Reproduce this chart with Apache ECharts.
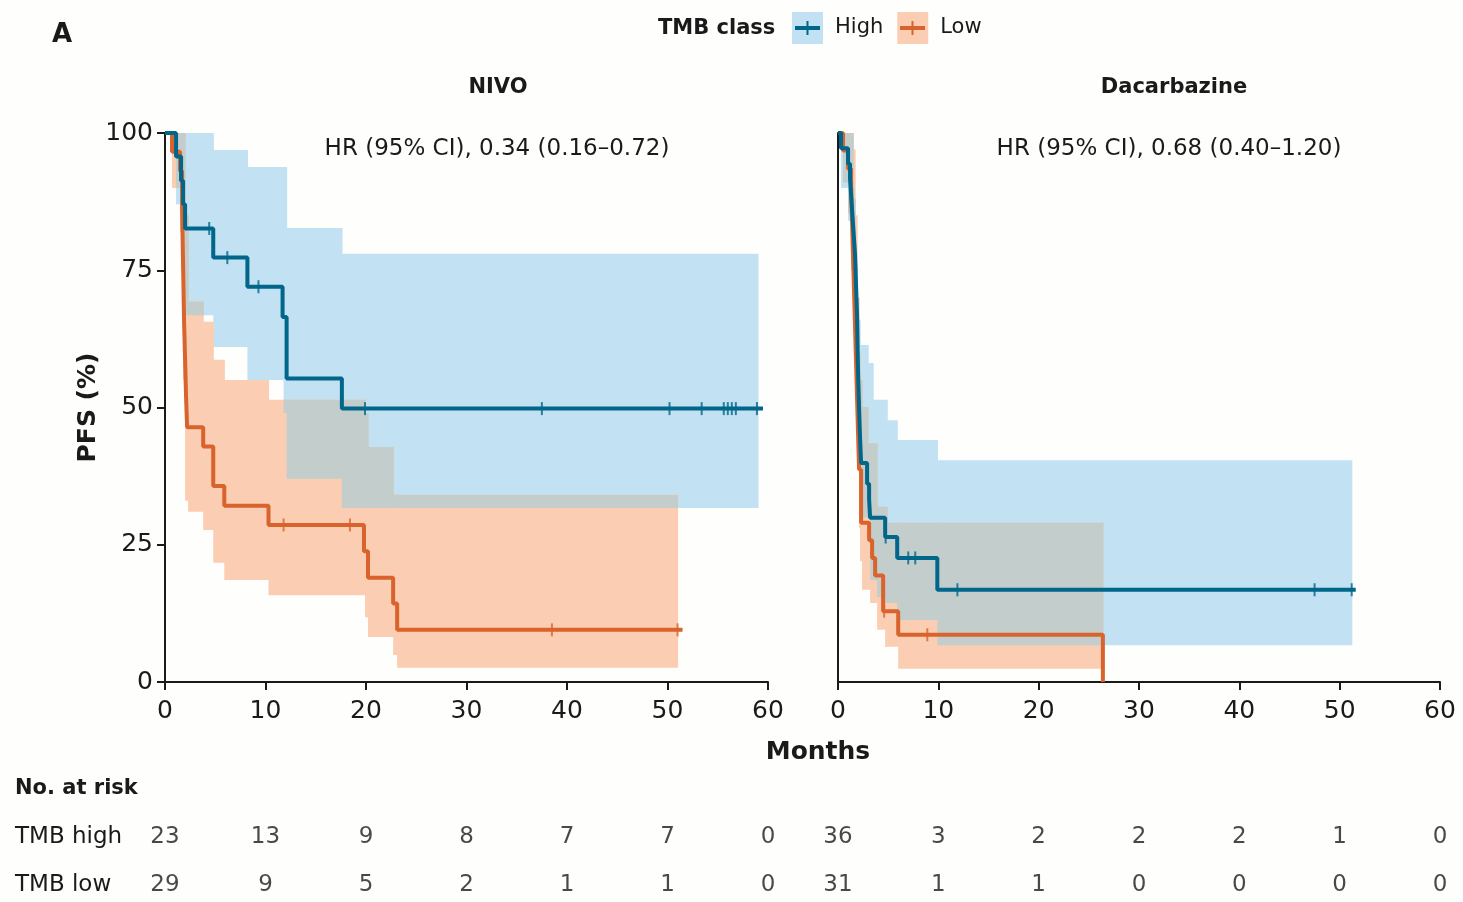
<!DOCTYPE html>
<html lang="en">
<head>
<meta charset="UTF-8">
<title>PFS by TMB class</title>
<script src="https://cdn.jsdelivr.net/npm/echarts@6.0.0/dist/echarts.min.js"></script>
<style>
  html, body { margin: 0; padding: 0; background: #ffffff; }
  #chart { width: 1463px; height: 902px; }
</style>
</head>
<body>
<div id="chart"></div>
<script>
// months shown on the x axes and in the risk table
const monthTicks = [0, 10, 20, 30, 40, 50, 60];

// Kaplan-Meier estimates, [month, PFS %]
const nivoHigh = [[0, 100], [1.1, 95.7], [1.6, 91.3], [1.8, 87.0], [2.0, 82.6], [4.8, 77.3], [8.2, 72.0],
  [11.7, 66.5], [12.1, 55.3], [17.6, 49.8]];
const nivoLow = [[0, 100], [0.7, 96.6], [1.5, 93.1], [1.7, 86.2], [1.8, 75.9], [1.9, 65.5], [2.0, 58.6],
  [2.1, 51.7], [2.2, 46.4], [3.8, 42.9], [4.8, 35.7], [5.9, 32.1], [10.3, 28.6], [19.8, 23.8],
  [20.2, 19.0], [22.7, 14.3], [23.1, 9.5]];
const dacHigh = [[0, 100], [0.3, 97.2], [1.0, 94.4], [1.2, 91.7], [1.3, 88.9], [1.4, 86.1], [1.5, 83.3],
  [1.6, 80.6], [1.7, 77.8], [1.8, 72.2], [1.9, 66.7], [1.95, 61.1], [2.0, 56.3], [2.1, 50.0],
  [2.2, 44.4], [2.3, 39.9], [2.9, 36.1], [3.1, 33.3], [3.2, 29.9], [4.7, 26.4], [5.9, 22.6], [9.9, 16.8]];
const dacLow = [[0, 100], [0.5, 96.8], [1.0, 93.5], [1.3, 90.3], [1.4, 83.9], [1.5, 77.4], [1.6, 71.0],
  [1.7, 64.5], [1.8, 58.1], [1.9, 51.6], [2.0, 45.2], [2.1, 38.7], [2.3, 29.0], [3.1, 25.8],
  [3.4, 22.6], [3.7, 19.4], [4.5, 12.9], [6.0, 8.6], [26.4, 0]];

// last follow-up month of each curve
const nivoHighEnd = 59.5;
const nivoLowEnd = 51.5;
const dacHighEnd = 51.6;
const dacLowEnd = 26.4;

// censoring times (months)
const nivoHighCensor = [4.4, 6.2, 9.3, 19.9, 37.5, 50.2, 53.4, 55.6, 56.0, 56.4, 56.8, 58.9];
const nivoLowCensor = [11.8, 18.4, 38.5, 51.0];
const dacHighCensor = [2.05, 4.75, 7.0, 7.7, 11.9, 47.5, 51.2];
const dacLowCensor = [4.6, 8.9];

// 95% CI bands, [start month, lower %, upper %]
const nivoHighCI = [[0, 100, 100], [1.1, 87, 100], [1.6, 75, 100], [2.0, 66.8, 100], [4.8, 61.0, 96.9],
  [8.2, 55.0, 93.8], [11.8, 49.0, 93.8], [12.1, 37.0, 82.7], [17.6, 31.7, 78.0]];
const nivoLowCI = [[0, 100, 100], [0.7, 90, 100], [1.5, 82, 100], [1.8, 55, 100], [2.0, 33, 85],
  [2.3, 31.0, 69.3], [3.8, 27.7, 65.6], [4.8, 21.7, 58.7], [5.9, 18.6, 55.0], [10.3, 15.8, 51.4],
  [19.9, 11.8, 49.0], [20.2, 8.2, 42.8], [22.7, 4.9, 34.1], [23.1, 2.6, 34.1]];
const dacHighCI = [[0, 100, 100], [0.3, 90, 100], [1.0, 84, 100], [1.3, 75, 100], [1.5, 70, 90],
  [1.6, 65, 88], [1.7, 58, 80], [1.8, 55, 76], [1.9, 48, 70], [2.0, 42, 66], [2.2, 30, 61.4],
  [3.0, 30, 58.1], [3.2, 18.6, 58.1], [3.5, 18.6, 51.4], [3.9, 15.5, 51.4], [4.7, 14.4, 51.4],
  [4.9, 14.4, 47.7], [5.9, 11.3, 44.1], [9.9, 6.7, 40.4]];
const dacLowCI = [[0, 100, 100], [0.5, 91, 100], [1.0, 85.4, 100], [1.3, 76.3, 100], [1.5, 70.9, 97],
  [1.7, 55, 85], [1.9, 40, 70], [2.1, 28, 60], [2.2, 22, 55], [2.4, 16.8, 50.1], [3.0, 16.8, 43.5],
  [3.2, 14.4, 43.5], [3.9, 9.5, 31.9], [4.7, 6.4, 31.9], [4.9, 6.4, 29.0], [6.0, 2.4, 29.0]];
const nivoHighCIEnd = 59.0;
const nivoLowCIEnd = 51.0;
const dacHighCIEnd = 51.2;
const dacLowCIEnd = 26.4;

// number at risk at monthTicks
const riskNivoHigh = [23, 13, 9, 8, 7, 7, 0];
const riskNivoLow = [29, 9, 5, 2, 1, 1, 0];
const riskDacHigh = [36, 3, 2, 2, 2, 1, 0];
const riskDacLow = [31, 1, 1, 0, 0, 0, 0];

const hrNivo = 'HR (95% CI), 0.34 (0.16\u20130.72)';
const hrDac = 'HR (95% CI), 0.68 (0.40\u20131.20)';

const FONT = 'DejaVu Sans';
const INK = '#1a1a1a';
const blueLine = '#00668a';
const orangeLine = '#d9632c';
const blueBand = '#c2e1f2';
const orangeBand = '#fbcdb2';
const mixBand = '#c3cdcb';

const chart = echarts.init(document.getElementById('chart'));

function rowAt(rows, t) {
  let r = rows[0];
  for (const row of rows) { if (row[0] <= t) r = row; }
  return r;
}

function toRects(ci, end) {
  const out = [];
  ci.forEach((r, i) => {
    const t1 = i + 1 < ci.length ? ci[i + 1][0] : end;
    if (r[2] > r[1]) out.push([r[0], t1, r[1], r[2]]);
  });
  return out;
}

function overlapRects(a, endA, b, endB) {
  const end = Math.min(endA, endB);
  const ts = Array.from(new Set(a.map(r => r[0]).concat(b.map(r => r[0]))))
    .filter(t => t < end).sort((p, q) => p - q);
  const out = [];
  ts.forEach((t, i) => {
    const t1 = i + 1 < ts.length ? ts[i + 1] : end;
    const ra = rowAt(a, t), rb = rowAt(b, t);
    const lo = Math.max(ra[1], rb[1]), hi = Math.min(ra[2], rb[2]);
    if (hi > lo) out.push([t, t1, lo, hi]);
  });
  return out;
}

function band(rects, color, g) {
  return {
    type: 'custom', xAxisIndex: g, yAxisIndex: g, silent: true, z: 1,
    encode: { x: [0, 1], y: [2, 3] },
    data: rects,
    renderItem: function (params, api) {
      const p0 = api.coord([api.value(0), api.value(3)]);
      const p1 = api.coord([api.value(1), api.value(2)]);
      return {
        type: 'rect',
        shape: { x: p0[0], y: p0[1], width: p1[0] - p0[0] + 0.6, height: p1[1] - p0[1] },
        style: { fill: color }
      };
    }
  };
}

function curve(name, pts, end, color, g) {
  const data = pts.slice();
  if (end > pts[pts.length - 1][0]) data.push([end, pts[pts.length - 1][1]]);
  return {
    type: 'line', name: name, xAxisIndex: g, yAxisIndex: g, step: 'end',
    data: data, symbol: 'none', z: 5,
    lineStyle: { color: color, width: 4 }, itemStyle: { color: color }
  };
}

function censors(pts, times, color, g) {
  return {
    type: 'scatter', name: 'censored', xAxisIndex: g, yAxisIndex: g, z: 6,
    symbol: 'rect', symbolSize: [2, 13],
    itemStyle: { color: color },
    data: times.map(t => [t, rowAt(pts, t)[1]])
  };
}

function risk(counts, row, g) {
  return {
    type: 'scatter', xAxisIndex: g, yAxisIndex: g, symbolSize: 1,
    itemStyle: { color: 'transparent' },
    label: { show: true, position: 'inside', fontFamily: FONT, fontSize: 23, color: INK,
      formatter: p => String(p.value[2]) },
    data: counts.map((n, i) => [monthTicks[i], row, n])
  };
}

function mainX(g) {
  return {
    gridIndex: g, type: 'value', min: 0, max: 60, interval: 10,
    axisLine: { show: true, onZero: false, lineStyle: { color: INK, width: 2 } },
    axisTick: { show: true, length: 8, lineStyle: { color: INK, width: 2 } },
    axisLabel: { fontFamily: FONT, fontSize: 25, color: INK, margin: 17 },
    splitLine: { show: false }
  };
}

// risk rows sit on the category ends: high at the top edge, low at the bottom edge
const grids = [
  { left: 165, top: 133, width: 603, height: 549 },
  { left: 838, top: 133, width: 602, height: 549 },
  { left: 165, top: 837, width: 603, height: 48 },
  { left: 838, top: 837, width: 602, height: 48 }
];

const riskRows = ['TMB low', 'TMB high'];

const option = {
  backgroundColor: '#fefefd',
  animation: false,
  grid: grids,
  legend: {
    left: 792, top: 12, padding: 0, itemWidth: 31, itemHeight: 32, itemGap: 14,
    icon: 'rect', selectedMode: false,
    textStyle: { fontFamily: FONT, fontSize: 21, color: INK, padding: [4, 0, 0, 7] },
    data: [
      { name: 'High', itemStyle: { color: blueBand } },
      { name: 'Low', itemStyle: { color: orangeBand } }
    ]
  },
  xAxis: [
    mainX(0), mainX(1),
    { gridIndex: 2, type: 'value', min: 0, max: 60, show: false },
    { gridIndex: 3, type: 'value', min: 0, max: 60, show: false }
  ],
  yAxis: [
    {
      gridIndex: 0, type: 'value', min: 0, max: 100, interval: 25,
      name: 'PFS (%)', nameLocation: 'middle', nameGap: 56, nameRotate: 90,
      nameTextStyle: { fontFamily: FONT, fontSize: 25, fontWeight: 'bold', color: INK },
      axisLine: { show: true, lineStyle: { color: INK, width: 2 } },
      axisTick: { show: true, length: 8, lineStyle: { color: INK, width: 2 } },
      axisLabel: { fontFamily: FONT, fontSize: 25, color: INK, margin: 12 },
      splitLine: { show: false }
    },
    {
      gridIndex: 1, type: 'value', min: 0, max: 100, interval: 25,
      axisLine: { show: true, lineStyle: { color: INK, width: 2 } },
      axisTick: { show: false }, axisLabel: { show: false }, splitLine: { show: false }
    },
    {
      gridIndex: 2, type: 'category', data: riskRows, boundaryGap: false,
      axisLine: { show: false }, axisTick: { show: false },
      axisLabel: { fontFamily: FONT, fontSize: 23, color: INK, align: 'left', margin: 150 }
    },
    {
      gridIndex: 3, type: 'category', data: riskRows, boundaryGap: false,
      axisLine: { show: false }, axisTick: { show: false }, axisLabel: { show: false }
    }
  ],
  series: [
    band(toRects(nivoHighCI, nivoHighCIEnd), blueBand, 0),
    band(toRects(nivoLowCI, nivoLowCIEnd), orangeBand, 0),
    band(overlapRects(nivoHighCI, nivoHighCIEnd, nivoLowCI, nivoLowCIEnd), mixBand, 0),
    band(toRects(dacHighCI, dacHighCIEnd), blueBand, 1),
    band(toRects(dacLowCI, dacLowCIEnd), orangeBand, 1),
    band(overlapRects(dacHighCI, dacHighCIEnd, dacLowCI, dacLowCIEnd), mixBand, 1),
    curve('Low', nivoLow, nivoLowEnd, orangeLine, 0),
    curve('High', nivoHigh, nivoHighEnd, blueLine, 0),
    curve('Low', dacLow, dacLowEnd, orangeLine, 1),
    curve('High', dacHigh, dacHighEnd, blueLine, 1),
    censors(nivoLow, nivoLowCensor, orangeLine, 0),
    censors(nivoHigh, nivoHighCensor, blueLine, 0),
    censors(dacLow, dacLowCensor, orangeLine, 1),
    censors(dacHigh, dacHighCensor, blueLine, 1),
    risk(riskNivoHigh, 'TMB high', 2),
    risk(riskNivoLow, 'TMB low', 2),
    risk(riskDacHigh, 'TMB high', 3),
    risk(riskDacLow, 'TMB low', 3)
  ],
  graphic: [
    { type: 'text', x: 62, y: 35, style: { text: 'A', font: 'bold 26px "DejaVu Sans"', fill: INK, align: 'center', verticalAlign: 'middle' } },
    { type: 'text', x: 658, y: 29, style: { text: 'TMB class', font: 'bold 21px "DejaVu Sans"', fill: INK, align: 'left', verticalAlign: 'middle' } },
    { type: 'text', x: 498, y: 88, style: { text: 'NIVO', font: 'bold 21px "DejaVu Sans"', fill: INK, align: 'center', verticalAlign: 'middle' } },
    { type: 'text', x: 1174, y: 88, style: { text: 'Dacarbazine', font: 'bold 21px "DejaVu Sans"', fill: INK, align: 'center', verticalAlign: 'middle' } },
    { type: 'text', x: 497, y: 149, style: { text: hrNivo, font: '23px "DejaVu Sans"', fill: INK, align: 'center', verticalAlign: 'middle' } },
    { type: 'text', x: 1169, y: 149, style: { text: hrDac, font: '23px "DejaVu Sans"', fill: INK, align: 'center', verticalAlign: 'middle' } },
    { type: 'text', x: 818, y: 752, style: { text: 'Months', font: 'bold 25px "DejaVu Sans"', fill: INK, align: 'center', verticalAlign: 'middle' } },
    { type: 'text', x: 15, y: 789, style: { text: 'No. at risk', font: 'bold 21px "DejaVu Sans"', fill: INK, align: 'left', verticalAlign: 'middle' } },
    // line-and-tick marks inside the legend boxes
    { type: 'line', z: 100, shape: { x1: 795, y1: 28, x2: 820, y2: 28 }, style: { stroke: blueLine, lineWidth: 4 } },
    { type: 'line', z: 100, shape: { x1: 807.5, y1: 21, x2: 807.5, y2: 35 }, style: { stroke: blueLine, lineWidth: 2 } },
    { type: 'line', z: 100, shape: { x1: 900, y1: 28, x2: 925, y2: 28 }, style: { stroke: orangeLine, lineWidth: 4 } },
    { type: 'line', z: 100, shape: { x1: 912.5, y1: 21, x2: 912.5, y2: 35 }, style: { stroke: orangeLine, lineWidth: 2 } }
  ]
};

chart.setOption(option);
</script>
</body>
</html>
